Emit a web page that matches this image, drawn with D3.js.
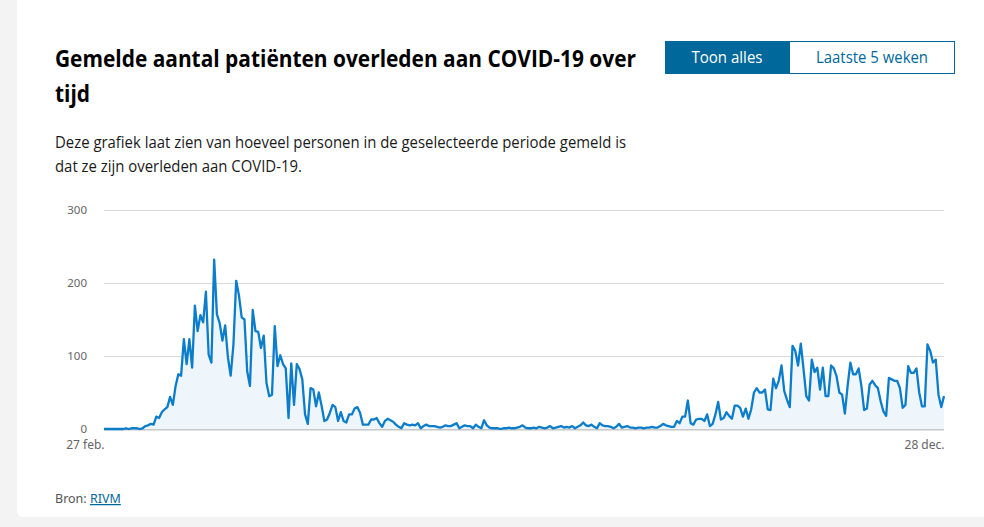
<!DOCTYPE html>
<html>
<head>
<meta charset="utf-8">
<script src="https://cdn.jsdelivr.net/npm/d3@7"></script>
<style>
  html, body { margin: 0; padding: 0; background: #f3f3f3; }
  svg { display: block; }
</style>
</head>
<body>
<div id="chart"></div>
<script>
// reported deaths per day, 27 feb 2020 - 28 dec 2020
var startDate = new Date(2020, 1, 27);
var feb = [0, 0, 0];
var mar = [0, 0, 0, 0, 0, 1, 0, 1, 1, 1, 0, 1, 4, 5, 7, 6, 17, 15, 23, 27, 30, 44, 33, 59, 75, 73, 123, 89, 123, 84, 169];
var apr = [134, 156, 146, 188, 102, 91, 232, 157, 145, 121, 142, 98, 73, 116, 203, 183, 153, 150, 79, 59, 163, 134, 133, 111, 128, 63, 45, 47, 141, 86];
var may = [101, 89, 83, 15, 90, 33, 89, 82, 68, 20, 7, 56, 54, 31, 50, 32, 11, 13, 22, 33, 30, 11, 23, 11, 9, 20, 20, 28, 30, 22, 6];
var jun = [6, 6, 13, 13, 15, 8, 3, 11, 14, 12, 10, 6, 3, 1, 8, 6, 5, 6, 5, 8, 1, 4, 6, 4, 4, 4, 3, 2, 3, 5];
var jul = [4, 4, 6, 8, 1, 3, 5, 4, 4, 1, 6, 3, 1, 12, 5, 2, 1, 1, 1, 0, 1, 1, 2, 1, 1, 2, 3, 5, 2, 1, 1];
var aug = [2, 1, 3, 2, 1, 2, 4, 1, 2, 3, 4, 2, 3, 2, 4, 1, 3, 5, 9, 5, 4, 6, 3, 1, 8, 5, 4, 4, 3, 1, 3];
var sep = [7, 2, 3, 4, 2, 2, 1, 2, 2, 1, 2, 2, 3, 2, 2, 4, 7, 5, 4, 3, 3, 11, 8, 17, 17, 39, 8, 6, 13, 14];
var oct = [14, 11, 20, 4, 7, 20, 37, 13, 15, 23, 18, 14, 32, 32, 29, 17, 28, 14, 27, 50, 56, 50, 50, 54, 27, 26, 69, 56, 66, 87, 52];
var nov = [40, 30, 114, 107, 87, 117, 82, 45, 39, 95, 78, 84, 54, 84, 45, 45, 87, 83, 72, 50, 47, 21, 59, 91, 75, 75, 83, 59, 26, 28];
var dec = [61, 66, 60, 56, 38, 24, 18, 70, 68, 66, 66, 56, 29, 33, 86, 77, 77, 83, 50, 31, 31, 116, 107, 91, 95, 47, 30, 45];

var yTicks = [0, 100, 200, 300];
var monthNames = ["jan.", "feb.", "mrt.", "apr.", "mei", "jun.", "jul.", "aug.", "sep.", "okt.", "nov.", "dec."];

var values = [].concat(feb, mar, apr, may, jun, jul, aug, sep, oct, nov, dec);
var data = values.map(function (v, i) {
    return { date: d3.timeDay.offset(startDate, i), value: v };
});

var width = 984, height = 527;
var blue = "#01689b";
var lineBlue = "#0b7dcb";
var font = "'Open Sans', 'Noto Sans', sans-serif";

var svg = d3.select("#chart").append("svg")
    .attr("width", width)
    .attr("height", height)
    .style("font-family", font);

// card
svg.append("rect")
    .attr("x", 17).attr("y", -10)
    .attr("width", 1000).attr("height", 527)
    .attr("rx", 6)
    .attr("fill", "#fff");

// squeeze a block of lines so that its first line gets the wanted width
function fitLines(sel, wanted) {
    var nodes = sel.selectAll("tspan").nodes();
    var ratio = wanted / nodes[0].getComputedTextLength();
    nodes.forEach(function (n) {
        d3.select(n)
            .attr("textLength", n.getComputedTextLength() * ratio)
            .attr("lengthAdjust", "spacingAndGlyphs");
    });
}

// title
var title = svg.append("text")
    .attr("x", 55).attr("y", 67)
    .attr("font-size", 23)
    .attr("font-weight", 700)
    .attr("fill", "#000");
title.append("tspan").attr("x", 55).text("Gemelde aantal patiënten overleden aan COVID-19 over");
title.append("tspan").attr("x", 55).attr("dy", 35).text("tijd");
fitLines(title, 581);

var sub = svg.append("text")
    .attr("x", 55).attr("y", 148)
    .attr("font-size", 15.5)
    .attr("fill", "#1a1a1a");
sub.append("tspan").attr("x", 55).text("Deze grafiek laat zien van hoeveel personen in de geselecteerde periode gemeld is");
sub.append("tspan").attr("x", 55).attr("dy", 24).text("dat ze zijn overleden aan COVID-19.");
fitLines(sub, 571);

// buttons
var buttons = [
    { label: "Toon alles", x: 665, w: 124, tw: 71, active: true },
    { label: "Laatste 5 weken", x: 789, w: 166, tw: 112, active: false }
];
var btn = svg.append("g").selectAll("g")
    .data(buttons)
    .enter().append("g");
btn.append("rect")
    .attr("x", function (d) { return d.x + 0.5; })
    .attr("y", 41.5)
    .attr("width", function (d) { return d.w - 1; })
    .attr("height", 32)
    .attr("fill", function (d) { return d.active ? blue : "#fff"; })
    .attr("stroke", blue);
btn.append("text")
    .attr("x", function (d) { return d.x + d.w / 2; })
    .attr("y", 63)
    .attr("text-anchor", "middle")
    .attr("font-size", 15.5)
    .attr("fill", function (d) { return d.active ? "#fff" : blue; })
    .attr("textLength", function (d) { return d.tw; })
    .attr("lengthAdjust", "spacingAndGlyphs")
    .text(function (d) { return d.label; });

// chart area
var plotLeft = 104, plotRight = 944, plotTop = 210, plotBottom = 429;

var x = d3.scaleTime()
    .domain([data[0].date, data[data.length - 1].date])
    .range([plotLeft, plotRight]);
var y = d3.scaleLinear()
    .domain([0, 300])
    .range([plotBottom, plotTop]);

var yAxis = svg.append("g")
    .attr("transform", "translate(" + plotLeft + ",0)")
    .call(d3.axisLeft(y).tickValues(yTicks).tickSize(-(plotRight - plotLeft)).tickPadding(17));
yAxis.select(".domain").remove();
yAxis.selectAll(".tick line")
    .attr("stroke", function (d) { return d === 0 ? "#c8c8c8" : "#d9d9d9"; })
    .attr("stroke-width", function (d) { return d === 0 ? 2 : 1; });
yAxis.selectAll(".tick text")
    .attr("font-family", "'Noto Sans', sans-serif")
    .attr("font-size", 11.5)
    .attr("fill", "#666");

var area = d3.area()
    .x(function (d) { return x(d.date); })
    .y0(y(0))
    .y1(function (d) { return y(d.value); });
var line = d3.line()
    .x(function (d) { return x(d.date); })
    .y(function (d) { return y(d.value); });

svg.append("path")
    .datum(data)
    .attr("d", area)
    .attr("fill", "#eef5fb");
svg.append("path")
    .datum(data)
    .attr("d", line)
    .attr("fill", "none")
    .attr("stroke", lineBlue)
    .attr("stroke-width", 2.3)
    .attr("stroke-linejoin", "round");

// first and last date only
var xAxis = svg.append("g")
    .attr("transform", "translate(0," + plotBottom + ")")
    .call(d3.axisBottom(x)
        .tickValues([data[0].date, data[data.length - 1].date])
        .tickSize(0)
        .tickPadding(11)
        .tickFormat(function (d) { return d.getDate() + " " + monthNames[d.getMonth()]; }));
xAxis.select(".domain").remove();
xAxis.selectAll(".tick text")
    .attr("text-anchor", "end")
    .attr("font-family", "'Noto Sans', sans-serif")
    .attr("font-size", 12)
    .attr("fill", "#666");

// source
var src = svg.append("text")
    .attr("x", 55).attr("y", 503)
    .attr("font-family", "'Noto Sans', sans-serif")
    .attr("font-size", 12.5)
    .attr("fill", "#555");
src.append("tspan").text("Bron: ");
src.append("tspan")
    .attr("fill", blue)
    .attr("text-decoration", "underline")
    .text("RIVM");
</script>
</body>
</html>
